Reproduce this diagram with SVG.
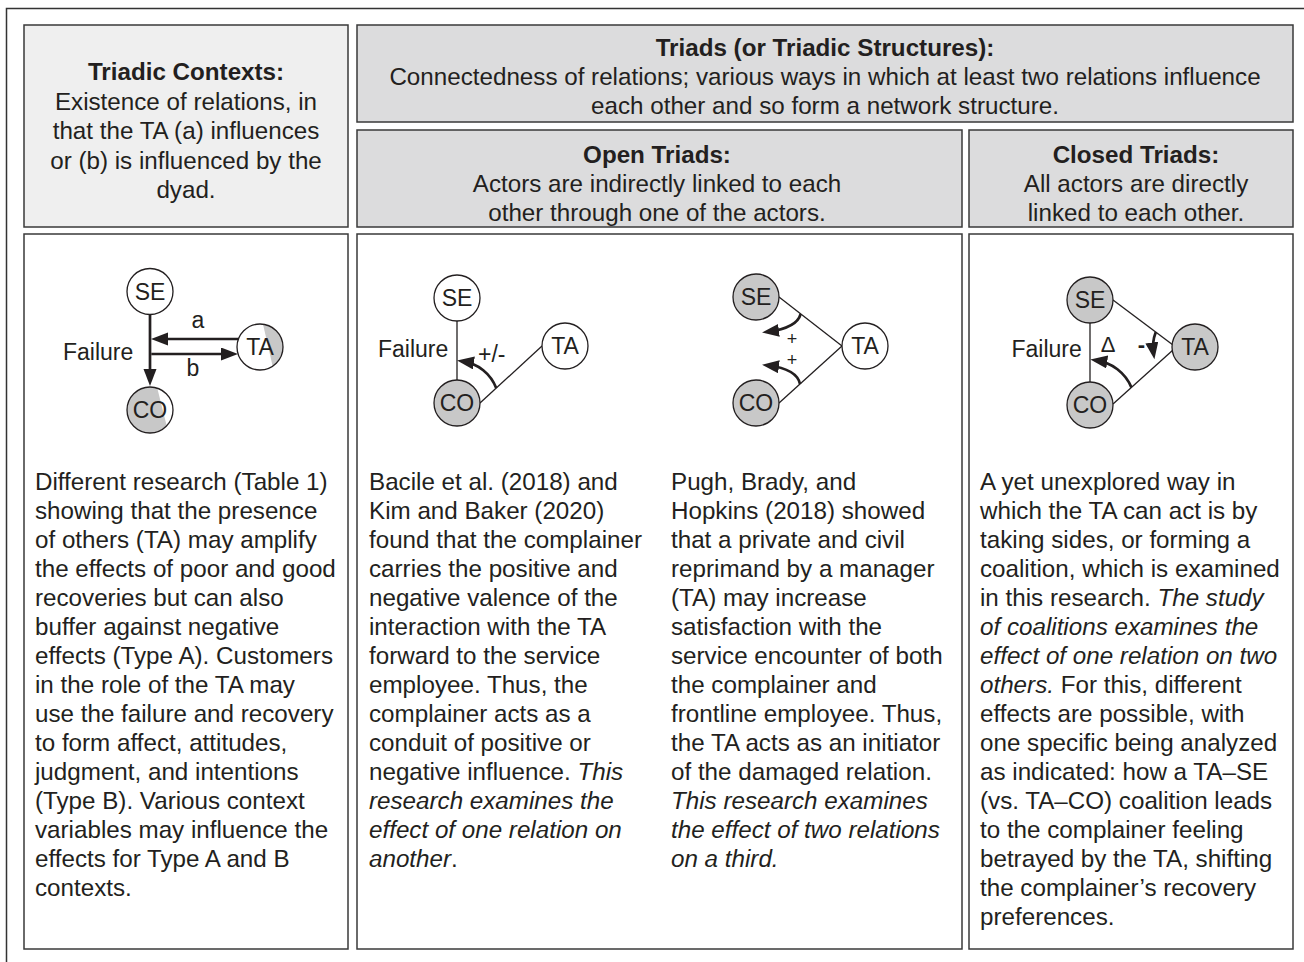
<svg xmlns="http://www.w3.org/2000/svg" width="1304" height="962" viewBox="0 0 1304 962">
<style>
text{font-family:"Liberation Sans",Arial,Helvetica,sans-serif;fill:#231f20}
.hd{font-size:24.2px;text-anchor:middle}
.b{font-weight:bold}
.body{font-size:24.2px}
.it{font-style:italic}
.lbl{font-size:23px;text-anchor:middle}
.dl{font-size:23px}
.sm{font-size:22px;text-anchor:middle}
.pl{font-size:18px;text-anchor:middle}
.box{stroke:#3a3a3a;stroke-width:1.5}
.nd{stroke:#231f20;stroke-width:1.3}
.w{fill:#ffffff}
.g{fill:#c8c8c8}
.thin{stroke:#231f20;stroke-width:1.3;fill:none}
.thick{stroke:#231f20;stroke-width:2.7;fill:none;marker-end:url(#ah)}
</style>
<defs>
<marker id="ah" markerWidth="18" markerHeight="14" refX="11" refY="6.5" orient="auto" markerUnits="userSpaceOnUse">
<path d="M0,0 L17,6.5 L0,13 z" fill="#231f20"/>
</marker>
<clipPath id="cTA1"><circle cx="260" cy="347" r="23"/></clipPath>
<clipPath id="cCO1"><circle cx="150" cy="410" r="23"/></clipPath>
</defs>
<rect x="6.5" y="8.5" width="1320" height="980" fill="#ffffff" stroke="#333" stroke-width="1.5"/>

<g id="hdr-contexts">
<rect class="box" x="24" y="25" width="324" height="202" fill="#efefef"/>
<text class="hd b" x="186" y="80">Triadic Contexts:</text>
<text class="hd" x="186" y="109.5">Existence of relations, in</text>
<text class="hd" x="186" y="139">that the TA (a) influences</text>
<text class="hd" x="186" y="168.5">or (b) is influenced by the</text>
<text class="hd" x="186" y="198">dyad.</text>
</g>
<g id="hdr-triads">
<rect class="box" x="357" y="25" width="936" height="97" fill="#dcdcdd"/>
<text class="hd b" x="825" y="56">Triads (or Triadic Structures):</text>
<text class="hd" x="825" y="85">Connectedness of relations; various ways in which at least two relations influence</text>
<text class="hd" x="825" y="114">each other and so form a network structure.</text>
</g>
<g id="hdr-open">
<rect class="box" x="357" y="130" width="605" height="97" fill="#dcdcdd"/>
<text class="hd b" x="657" y="163">Open Triads:</text>
<text class="hd" x="657" y="192">Actors are indirectly linked to each</text>
<text class="hd" x="657" y="220.5">other through one of the actors.</text>
</g>
<g id="hdr-closed">
<rect class="box" x="969" y="130" width="324" height="97" fill="#dcdcdd"/>
<text class="hd b" x="1136" y="163">Closed Triads:</text>
<text class="hd" x="1136" y="192">All actors are directly</text>
<text class="hd" x="1136" y="220.5">linked to each other.</text>
</g>

<g id="panel-contexts">
<rect class="box" x="24" y="234" width="324" height="715" fill="#ffffff"/>
<text class="body" x="35" y="489.5">
<tspan x="35" dy="0">Different research (Table 1)</tspan>
<tspan x="35" dy="29">showing that the presence</tspan>
<tspan x="35" dy="29">of others (TA) may amplify</tspan>
<tspan x="35" dy="29">the effects of poor and good</tspan>
<tspan x="35" dy="29">recoveries but can also</tspan>
<tspan x="35" dy="29">buffer against negative</tspan>
<tspan x="35" dy="29">effects (Type A). Customers</tspan>
<tspan x="35" dy="29">in the role of the TA may</tspan>
<tspan x="35" dy="29">use the failure and recovery</tspan>
<tspan x="35" dy="29">to form affect, attitudes,</tspan>
<tspan x="35" dy="29">judgment, and intentions</tspan>
<tspan x="35" dy="29">(Type B). Various context</tspan>
<tspan x="35" dy="29">variables may influence the</tspan>
<tspan x="35" dy="29">effects for Type A and B</tspan>
<tspan x="35" dy="29">contexts.</tspan>
</text>
</g>
<g id="panel-open">
<rect class="box" x="357" y="234" width="605" height="715" fill="#ffffff"/>
<text class="body" x="369" y="489.5">
<tspan x="369" dy="0">Bacile et al. (2018) and</tspan>
<tspan x="369" dy="29">Kim and Baker (2020)</tspan>
<tspan x="369" dy="29">found that the complainer</tspan>
<tspan x="369" dy="29">carries the positive and</tspan>
<tspan x="369" dy="29">negative valence of the</tspan>
<tspan x="369" dy="29">interaction with the TA</tspan>
<tspan x="369" dy="29">forward to the service</tspan>
<tspan x="369" dy="29">employee. Thus, the</tspan>
<tspan x="369" dy="29">complainer acts as a</tspan>
<tspan x="369" dy="29">conduit of positive or</tspan>
<tspan x="369" dy="29">negative influence. <tspan class="it">This</tspan></tspan>
<tspan x="369" dy="29" class="it">research examines the</tspan>
<tspan x="369" dy="29" class="it">effect of one relation on</tspan>
<tspan x="369" dy="29"><tspan class="it">another</tspan>.</tspan>
</text>
<text class="body" x="671" y="489.5">
<tspan x="671" dy="0">Pugh, Brady, and</tspan>
<tspan x="671" dy="29">Hopkins (2018) showed</tspan>
<tspan x="671" dy="29">that a private and civil</tspan>
<tspan x="671" dy="29">reprimand by a manager</tspan>
<tspan x="671" dy="29">(TA) may increase</tspan>
<tspan x="671" dy="29">satisfaction with the</tspan>
<tspan x="671" dy="29">service encounter of both</tspan>
<tspan x="671" dy="29">the complainer and</tspan>
<tspan x="671" dy="29">frontline employee. Thus,</tspan>
<tspan x="671" dy="29">the TA acts as an initiator</tspan>
<tspan x="671" dy="29">of the damaged relation.</tspan>
<tspan x="671" dy="29" class="it">This research examines</tspan>
<tspan x="671" dy="29" class="it">the effect of two relations</tspan>
<tspan x="671" dy="29" class="it">on a third.</tspan>
</text>
</g>
<g id="panel-closed">
<rect class="box" x="969" y="234" width="324" height="715" fill="#ffffff"/>
<text class="body" x="980" y="489.5">
<tspan x="980" dy="0">A yet unexplored way in</tspan>
<tspan x="980" dy="29">which the TA can act is by</tspan>
<tspan x="980" dy="29">taking sides, or forming a</tspan>
<tspan x="980" dy="29">coalition, which is examined</tspan>
<tspan x="980" dy="29">in this research. <tspan class="it">The study</tspan></tspan>
<tspan x="980" dy="29" class="it">of coalitions examines the</tspan>
<tspan x="980" dy="29" class="it">effect of one relation on two</tspan>
<tspan x="980" dy="29"><tspan class="it">others.</tspan> For this, different</tspan>
<tspan x="980" dy="29">effects are possible, with</tspan>
<tspan x="980" dy="29">one specific being analyzed</tspan>
<tspan x="980" dy="29">as indicated: how a TA–SE</tspan>
<tspan x="980" dy="29">(vs. TA–CO) coalition leads</tspan>
<tspan x="980" dy="29">to the complainer feeling</tspan>
<tspan x="980" dy="29">betrayed by the TA, shifting</tspan>
<tspan x="980" dy="29">the complainer’s recovery</tspan>
<tspan x="980" dy="29">preferences.</tspan>
</text>
</g>

<g id="connectors">
<line class="thick" x1="150" y1="314.5" x2="150" y2="380"/>
<line class="thick" x1="238.4" y1="339" x2="157" y2="339"/>
<line class="thick" x1="151.3" y1="354" x2="232" y2="354"/>
<line class="thin" x1="457" y1="321" x2="457" y2="380"/>
<line class="thin" x1="480" y1="403" x2="542" y2="346"/>
<path class="thick" d="M496.2,388.1 A42,42 0 0,0 463,361.4"/>
<line class="thin" x1="779" y1="297" x2="842" y2="346"/>
<line class="thin" x1="779" y1="403" x2="842" y2="346"/>
<path class="thick" d="M800.7,313.9 Q797,328 768,331.8"/>
<path class="thick" d="M800,384 Q797,369 768,365.5"/>
<line class="thin" x1="1090" y1="323" x2="1090" y2="382"/>
<line class="thin" x1="1113" y1="300" x2="1173" y2="345"/>
<line class="thin" x1="1113" y1="404" x2="1173" y2="350"/>
<path class="thick" d="M1131.4,387.4 A45,45 0 0,0 1096.3,360.4"/>
<path class="thick" d="M1155.8,332 A42,42 0 0,0 1153.5,353.4"/>
</g>

<g id="d1-labels">
<text class="dl" x="63" y="360">Failure</text>
<text class="lbl" x="198" y="328">a</text>
<text class="lbl" x="193" y="376">b</text>
</g>
<g id="d1-SE"><circle class="nd w" cx="150" cy="291.5" r="23"/><text class="lbl" x="150" y="299.5">SE</text></g>
<g id="d1-TA">
<circle cx="260" cy="347" r="23" fill="#ffffff"/>
<polygon clip-path="url(#cTA1)" points="262.5,322 290,322 290,372 274,372" fill="#c8c8c8"/>
<circle class="nd" cx="260" cy="347" r="23" fill="none"/>
<text class="lbl" x="260" y="355">TA</text>
</g>
<g id="d1-CO">
<circle cx="150" cy="410" r="23" fill="#c8c8c8"/>
<polygon clip-path="url(#cCO1)" points="156.5,385 185,385 185,435 169,435" fill="#ffffff"/>
<circle class="nd" cx="150" cy="410" r="23" fill="none"/>
<text class="lbl" x="150" y="418">CO</text>
</g>

<g id="d2-labels">
<text class="dl" x="378" y="357">Failure</text>
<text class="dl" x="478" y="362">+/-</text>
</g>
<g id="d2-SE"><circle class="nd w" cx="457" cy="298" r="23"/><text class="lbl" x="457" y="306">SE</text></g>
<g id="d2-CO"><circle class="nd g" cx="457" cy="403" r="23"/><text class="lbl" x="457" y="411">CO</text></g>
<g id="d2-TA"><circle class="nd w" cx="565" cy="346" r="23"/><text class="lbl" x="565" y="354">TA</text></g>

<g id="d3-labels">
<text class="pl" x="792" y="344.5">+</text>
<text class="pl" x="792" y="366">+</text>
</g>
<g id="d3-SE"><circle class="nd g" cx="756" cy="297" r="23"/><text class="lbl" x="756" y="305">SE</text></g>
<g id="d3-CO"><circle class="nd g" cx="756" cy="403" r="23"/><text class="lbl" x="756" y="411">CO</text></g>
<g id="d3-TA"><circle class="nd w" cx="865" cy="346" r="23"/><text class="lbl" x="865" y="354">TA</text></g>

<g id="d4-labels">
<text class="dl" x="1011.5" y="357">Failure</text>
<text class="sm" x="1108" y="352">Δ</text>
<text class="sm b" x="1141.5" y="352">-</text>
</g>
<g id="d4-SE"><circle class="nd g" cx="1090" cy="300" r="23"/><text class="lbl" x="1090" y="308">SE</text></g>
<g id="d4-CO"><circle class="nd g" cx="1090" cy="405" r="23"/><text class="lbl" x="1090" y="413">CO</text></g>
<g id="d4-TA"><circle class="nd g" cx="1195" cy="347" r="23"/><text class="lbl" x="1195" y="355">TA</text></g>
</svg>
